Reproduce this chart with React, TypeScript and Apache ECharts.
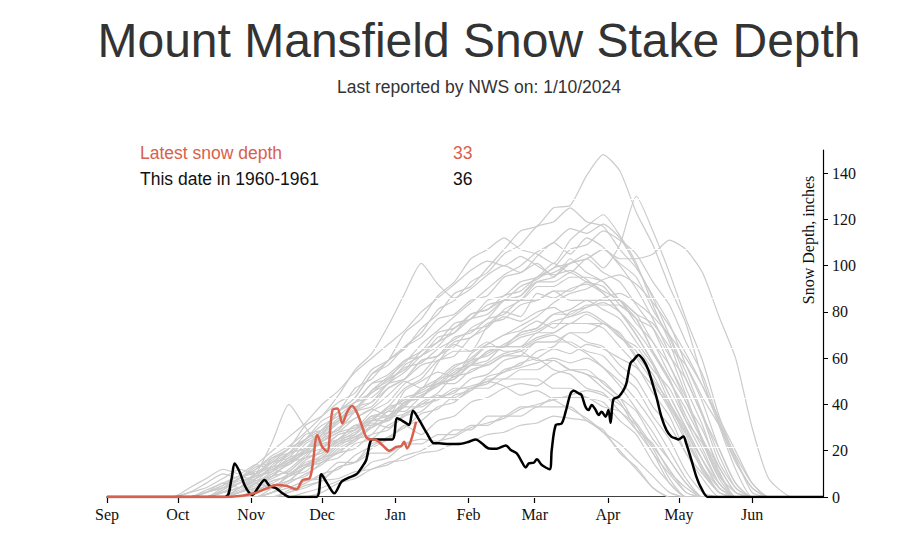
import React, { useEffect, useRef } from 'react';
import * as echarts from 'echarts';

// x axis: days since Sep 1 (season year)
const monthStarts = [0, 30, 61, 91, 122, 153, 181, 212, 242, 273];
const monthLabels = ['Sep', 'Oct', 'Nov', 'Dec', 'Jan', 'Feb', 'Mar', 'Apr', 'May', 'Jun'];
const yTicks = [0, 20, 40, 60, 80, 100, 120, 140];

// weekly sample days for historical seasons
const greyDays = [28, 35, 42, 49, 56, 63, 70, 77, 84, 91, 98, 105, 112, 119, 126, 133, 140, 147, 154, 161, 168, 175, 182, 189, 196, 203, 210, 217, 224, 231, 238, 245, 252, 259, 266, 273, 280];

const season01 = [0, 0, 2, 5, 8, 12, 18, 22, 28, 35, 44, 55, 62, 74, 88, 101, 92, 86, 90, 96, 100, 97, 104, 110, 105, 112, 108, 100, 90, 77, 62, 44, 24, 8, 0, 0, 0];
const season02 = [0, 0, 0, 2, 6, 10, 16, 21, 25, 33, 37, 47, 51, 59, 64, 73, 79, 88, 91, 99, 107, 115, 117, 125, 126, 139, 148, 141, 123, 109, 91, 75, 51, 31, 12, 0, 0];
const season03 = [0, 0, 0, 0, 3, 7, 9, 15, 17, 25, 29, 37, 41, 49, 54, 61, 65, 73, 77, 83, 85, 91, 94, 99, 101, 105, 99, 109, 130, 115, 97, 77, 59, 35, 17, 2, 0];
const season04 = [0, 0, 0, 0, 0, 2, 5, 7, 13, 15, 21, 25, 33, 39, 47, 51, 59, 61, 69, 73, 81, 85, 93, 95, 101, 103, 107, 103, 103, 105, 111, 107, 97, 78, 60, 30, 8];
const season05 = [0, 0, 2, 4, 7, 9, 15, 19, 27, 29, 37, 43, 53, 59, 71, 77, 87, 93, 103, 107, 112, 107, 105, 101, 111, 117, 122, 113, 101, 83, 67, 47, 31, 11, 0, 0, 0];
const season06 = [0, 0, 0, 0, 2, 5, 8, 12, 18, 24, 28, 34, 38, 44, 50, 47, 58, 66, 63, 74, 80, 78, 88, 86, 90, 92, 88, 80, 70, 58, 44, 30, 16, 4, 0, 0, 0];
const season07 = [0, 0, 0, 0, 0, 0, 2, 4, 7, 8, 13, 15, 21, 25, 31, 27, 33, 35, 41, 43, 47, 49, 48, 53, 55, 53, 50, 43, 37, 25, 16, 6, 0, 0, 0, 0, 0];
const season08 = [0, 0, 2, 6, 4, 8, 12, 16, 20, 24, 30, 34, 38, 35, 46, 50, 54, 52, 62, 66, 70, 72, 76, 73, 80, 82, 84, 80, 72, 62, 50, 38, 24, 10, 0, 0, 0];
const season09 = [0, 0, 0, 2, 4, 7, 9, 15, 19, 27, 33, 41, 45, 51, 55, 63, 67, 75, 77, 85, 87, 93, 95, 101, 97, 103, 97, 93, 83, 73, 57, 43, 25, 11, 0, 0, 0];
const season10 = [0, 0, 0, 0, 0, 0, 0, 2, 5, 7, 13, 15, 23, 25, 31, 33, 39, 41, 47, 49, 55, 57, 63, 65, 71, 71, 75, 69, 63, 51, 41, 25, 13, 2, 0, 0, 0];
const season11 = [0, 0, 0, 0, 2, 6, 11, 15, 23, 27, 37, 43, 53, 57, 65, 71, 81, 85, 93, 97, 105, 109, 117, 119, 125, 119, 117, 107, 99, 87, 75, 57, 41, 21, 6, 0, 0];
const season12 = [0, 0, 3, 6, 9, 10, 13, 14, 19, 21, 27, 29, 35, 37, 43, 45, 49, 51, 57, 57, 61, 61, 60, 55, 53, 47, 45, 37, 31, 19, 10, 2, 0, 0, 0, 0, 0];
const season13 = [0, 0, 0, 0, 0, 4, 9, 11, 17, 19, 25, 27, 33, 35, 41, 43, 51, 53, 59, 61, 65, 65, 71, 71, 75, 75, 73, 65, 57, 45, 35, 19, 8, 0, 0, 0, 0];
const season14 = [0, 0, 0, 3, 8, 12, 17, 19, 25, 29, 37, 41, 49, 53, 59, 63, 71, 73, 79, 81, 85, 85, 91, 91, 95, 95, 93, 85, 79, 67, 57, 41, 29, 13, 2, 0, 0];
const season15 = [0, 0, 0, 0, 0, 0, 0, 0, 2, 4, 7, 9, 15, 17, 23, 25, 24, 29, 29, 35, 35, 39, 39, 43, 43, 43, 39, 37, 29, 23, 11, 4, 0, 0, 0, 0, 0];
const season16 = [0, 0, 0, 0, 0, 2, 4, 9, 11, 17, 19, 25, 27, 35, 39, 47, 49, 55, 57, 63, 65, 71, 73, 79, 81, 85, 85, 85, 79, 75, 65, 57, 43, 31, 15, 4, 0];
const season17 = [0, 0, 0, 2, 4, 8, 13, 15, 21, 25, 33, 37, 45, 49, 57, 61, 67, 71, 79, 81, 87, 89, 95, 97, 101, 103, 107, 101, 95, 81, 69, 51, 35, 15, 4, 0, 0];
const season18 = [0, 2, 6, 10, 8, 13, 15, 21, 25, 31, 35, 41, 43, 49, 51, 57, 59, 63, 63, 67, 63, 63, 59, 59, 55, 55, 49, 43, 31, 21, 8, 0, 0, 0, 0, 0, 0];
const season19 = [0, 0, 0, 0, 4, 9, 11, 19, 21, 29, 33, 39, 41, 47, 51, 59, 61, 69, 71, 77, 79, 85, 85, 89, 85, 85, 81, 77, 67, 57, 41, 29, 13, 4, 0, 0, 0];
const season20 = [0, 0, 0, 0, 0, 2, 7, 9, 13, 15, 19, 21, 27, 29, 35, 37, 43, 45, 51, 53, 59, 61, 67, 67, 71, 67, 65, 57, 51, 39, 31, 19, 10, 2, 0, 0, 0];
const season21 = [0, 0, 0, 0, 2, 4, 9, 11, 17, 19, 25, 29, 37, 41, 49, 53, 61, 65, 73, 77, 85, 87, 95, 99, 107, 109, 115, 111, 105, 93, 83, 67, 53, 33, 18, 6, 0];
const season22 = [0, 0, 2, 4, 6, 10, 24, 40, 30, 22, 27, 29, 33, 33, 39, 39, 43, 43, 47, 47, 51, 51, 51, 47, 47, 43, 41, 33, 27, 15, 6, 0, 0, 0, 0, 0, 0];
const season23 = [0, 0, 0, 0, 0, 0, 4, 9, 13, 21, 25, 31, 33, 39, 41, 47, 51, 57, 59, 65, 65, 69, 71, 75, 75, 79, 75, 71, 61, 53, 39, 27, 11, 2, 0, 0, 0];
const season24 = [0, 0, 0, 4, 8, 11, 13, 19, 21, 27, 29, 37, 39, 47, 51, 59, 61, 67, 69, 75, 77, 83, 85, 89, 89, 93, 89, 85, 75, 67, 53, 41, 25, 13, 2, 0, 0];
const season25 = [0, 0, 0, 0, 0, 0, 0, 2, 4, 7, 8, 11, 12, 15, 16, 19, 20, 23, 24, 27, 28, 31, 32, 35, 34, 33, 28, 23, 16, 9, 2, 0, 0, 0, 0, 0, 0];
const season26 = [0, 2, 4, 8, 12, 10, 17, 21, 31, 35, 41, 45, 55, 59, 65, 69, 77, 79, 85, 87, 95, 97, 101, 95, 103, 97, 93, 85, 77, 63, 51, 33, 19, 6, 0, 0, 0];
const season27 = [0, 0, 0, 0, 2, 4, 7, 9, 15, 17, 23, 27, 35, 35, 41, 43, 49, 49, 55, 57, 61, 63, 67, 67, 67, 63, 61, 53, 47, 35, 25, 11, 2, 0, 0, 0, 0];
const season28 = [0, 0, 0, 0, 0, 0, 2, 7, 9, 15, 17, 23, 25, 31, 35, 41, 45, 53, 57, 63, 65, 71, 73, 79, 79, 83, 83, 83, 77, 73, 61, 51, 35, 21, 6, 0, 0];
const season29 = [0, 0, 0, 2, 6, 9, 11, 17, 19, 23, 25, 31, 31, 37, 37, 43, 43, 47, 47, 51, 51, 55, 55, 59, 55, 53, 47, 41, 29, 19, 6, 0, 0, 0, 0, 0, 0];
const season30 = [0, 0, 0, 0, 4, 10, 15, 17, 25, 29, 37, 41, 49, 51, 59, 61, 69, 71, 77, 79, 85, 87, 93, 93, 97, 93, 91, 83, 77, 63, 51, 35, 21, 6, 0, 0, 0];
const season31 = [0, 0, 0, 0, 0, 2, 5, 7, 13, 17, 23, 25, 31, 33, 41, 43, 49, 51, 57, 59, 65, 65, 69, 71, 75, 75, 75, 69, 65, 55, 47, 33, 23, 9, 2, 0, 0];
const season32 = [0, 0, 0, 0, 0, 0, 2, 4, 7, 9, 15, 15, 19, 19, 23, 23, 27, 27, 31, 31, 35, 35, 39, 39, 39, 33, 29, 19, 13, 4, 0, 0, 0, 0, 0, 0, 0];
const season33 = [0, 0, 2, 5, 9, 7, 14, 18, 24, 28, 34, 38, 46, 50, 56, 58, 64, 68, 72, 74, 78, 76, 80, 82, 78, 80, 76, 70, 60, 50, 38, 24, 12, 2, 0, 0, 0];
const season34 = [0, 0, 0, 0, 0, 0, 0, 3, 6, 10, 12, 18, 22, 26, 30, 36, 38, 44, 46, 52, 54, 58, 60, 64, 62, 66, 64, 60, 56, 48, 40, 28, 16, 6, 0, 0, 0];
const season35 = [0, 0, 0, 3, 8, 14, 20, 26, 32, 40, 46, 54, 60, 66, 72, 80, 86, 92, 98, 102, 100, 104, 100, 96, 98, 94, 88, 80, 70, 58, 44, 30, 16, 4, 0, 0, 0];
const season36 = [0, 0, 0, 0, 2, 6, 4, 10, 14, 18, 24, 28, 32, 30, 36, 40, 44, 42, 46, 50, 48, 44, 46, 42, 38, 34, 28, 20, 12, 4, 0, 0, 0, 0, 0, 0, 0];
const season37 = [0, 0, 0, 0, 0, 3, 6, 10, 14, 16, 22, 26, 30, 34, 40, 44, 48, 54, 58, 62, 66, 70, 72, 76, 78, 82, 86, 88, 84, 78, 70, 60, 48, 34, 20, 6, 0];
const season38 = [0, 4, 8, 12, 10, 14, 12, 16, 20, 24, 28, 30, 34, 38, 42, 44, 48, 52, 54, 58, 62, 64, 68, 70, 66, 62, 56, 48, 38, 28, 16, 6, 0, 0, 0, 0, 0];
const season39 = [0, 0, 0, 0, 2, 6, 10, 14, 20, 26, 32, 38, 46, 52, 58, 66, 72, 78, 84, 90, 96, 100, 106, 110, 116, 114, 118, 112, 100, 86, 70, 54, 36, 18, 4, 0, 0];
const season40 = [0, 0, 0, 0, 0, 0, 0, 0, 0, 2, 6, 8, 12, 14, 18, 20, 24, 26, 30, 32, 34, 38, 40, 42, 44, 46, 44, 40, 32, 22, 12, 2, 0, 0, 0, 0, 0];
const season41 = [0, 0, 0, 2, 4, 8, 12, 10, 16, 20, 24, 26, 30, 34, 36, 40, 42, 46, 48, 50, 54, 56, 58, 60, 58, 60, 56, 50, 42, 32, 20, 8, 0, 0, 0, 0, 0];
const season42 = [0, 0, 0, 0, 0, 0, 2, 6, 10, 14, 20, 24, 30, 34, 40, 46, 50, 56, 60, 66, 70, 74, 78, 84, 88, 90, 94, 96, 92, 84, 74, 62, 48, 32, 16, 4, 0];

const greySeasons = [
  season01, season02, season03, season04, season05, season06, season07, season08,
  season09, season10, season11, season12, season13, season14, season15, season16,
  season17, season18, season19, season20, season21, season22, season23, season24,
  season25, season26, season27, season28, season29, season30, season31, season32,
  season33, season34, season35, season36, season37, season38, season39, season40,
  season41, season42,
];

// 1960-1961 season: [day since Sep 1, depth in inches]
const season1960 = [
  [0, 0], [50, 0], [52.6, 7.3], [54, 14.5], [56.1, 10.9], [58.2, 5.2], [60.3, 1.6], [61.6, 0.9],
  [63.7, 3.7], [66.7, 7.3], [68.8, 4.8], [71.7, 3.7], [74.3, 1.6], [77.2, 0], [88.6, 0], [90.7, 9.8],
  [93.2, 5.9], [96.2, 1.6], [99.2, 6.6], [101.7, 8.1], [105.5, 9.8], [108, 13.1], [109.7, 16],
  [111.8, 24.6], [113.9, 24.9], [120.7, 24.9], [122.8, 34], [125.7, 32.5], [127.8, 31.1],
  [129.5, 37.3], [132.1, 33.3], [135.4, 27.5], [138.4, 23.2], [140.5, 23.2], [144.7, 22.9],
  [149, 22.9], [153.2, 23.9], [156.1, 24.9], [158.6, 23.2], [161.6, 21], [165, 20.9],
  [168.8, 22.3], [170.9, 20.3], [173.4, 18.9], [175.5, 15.3], [177.2, 12.8], [178.5, 14.5],
  [180.6, 14.8], [181.9, 16.3], [184, 13.8], [187.3, 12], [188.2, 20.3], [189.9, 31.1],
  [192.4, 31.8], [194.1, 36.9], [196.2, 44.8], [197.5, 45.9], [199.6, 44.8], [200.8, 44.1],
  [202.5, 39], [203.8, 37.6], [205.1, 39.8], [206.8, 37.6], [208, 35.4], [209.3, 36.9],
  [211, 34.7], [212.2, 37.6], [213.1, 32.1], [214.3, 42.2], [216.5, 43.3], [218.6, 46.2],
  [219.8, 49.1], [221.5, 57.8], [222.8, 59.2], [224.9, 61.4], [227, 59.2], [229.1, 54.9],
  [230.4, 50.6], [232.5, 43.3], [234.6, 34.7], [236.7, 29], [238.8, 26.1], [240.5, 25.4],
  [241.8, 24.9], [243.9, 26.1], [245.1, 23.2], [247.3, 16], [249.4, 8.8], [251.5, 3.8],
  [254.4, 0], [303, 0],
];

// latest season 2023-2024
const seasonLatest = [
  [0, 0], [50.6, 0], [54.9, 0.3], [59.1, 0.9], [63.3, 1.9], [67.5, 3.7], [71.7, 5.2], [75.9, 4.8],
  [80.2, 3.3], [82.7, 7.3], [85.7, 8.1], [86.9, 13], [89, 26.8], [91.1, 21.7], [93.2, 19.6],
  [95.4, 37.6], [97.5, 38.3], [99.6, 31.8], [101.7, 36.9], [103.8, 39.3], [105.9, 36.2],
  [108, 30.4], [110.1, 25.4], [113.9, 24.6], [116.5, 22.5], [119.4, 20], [122.4, 21.7],
  [124.5, 22], [125.7, 23.9], [127, 21], [128.7, 24.6], [130.8, 32.5],
];

const latestDepth = 33;
const thisDateDepth = 36;

const RED = '#d9604c';
const SERIF = '"Liberation Serif", "Times New Roman", serif';
const SANS = '"Liberation Sans", Arial, sans-serif';

export default function App() {
  const ref = useRef<HTMLDivElement>(null);

  useEffect(() => {
    if (!ref.current) return;
    const chart = echarts.init(ref.current, null, { renderer: 'svg' });

    const greySeries = greySeasons.map((vals, k) => ({
      type: 'line',
      name: 'hist' + k,
      data: [[0, 0], ...greyDays.map((d, i) => [d, vals[i]]), [290, 0], [303, 0]],
      showSymbol: false,
      smooth: 0.2,
      lineStyle: { color: '#cbcbcb', width: 1.2 },
      z: 2,
      silent: true,
    }));

    chart.setOption({
      animation: false,
      grid: { left: 107, right: 77, top: 150, bottom: 40 },
      xAxis: {
        type: 'value',
        min: 0,
        max: 303,
        axisLine: { show: true, onZero: false, lineStyle: { color: '#000', width: 1.5 } },
        axisTick: { show: true, length: 6, customValues: monthStarts, lineStyle: { color: '#000', width: 1.2 } },
        axisLabel: {
          customValues: monthStarts,
          formatter: (v: number) => monthLabels[monthStarts.indexOf(v)] ?? '',
          fontFamily: SERIF,
          fontSize: 16,
          color: '#111',
          margin: 9,
        },
        splitLine: { show: false },
      },
      yAxis: [
        {
          type: 'value',
          position: 'right',
          min: 0,
          max: 150,
          axisLine: { show: true, onZero: false, lineStyle: { color: '#000', width: 1.2 } },
          axisTick: { show: true, length: 5, customValues: yTicks, lineStyle: { color: '#000', width: 1 } },
          axisLabel: {
            customValues: yTicks,
            fontFamily: SERIF,
            fontSize: 16,
            color: '#111',
            margin: 9,
          },
          splitLine: { show: false },
          z: 6,
        },
        {
          type: 'value',
          position: 'left',
          min: 0,
          max: 140,
          interval: 20,
          axisLine: { show: false, onZero: false },
          axisTick: { show: false },
          axisLabel: { show: false },
          splitLine: { show: true, lineStyle: { color: '#ffffff', width: 1 } },
          z: 3,
        },
      ],
      series: [
        ...greySeries,
        {
          type: 'line',
          name: '1960-1961',
          data: season1960,
          showSymbol: false,
          smooth: 0.3,
          lineStyle: { color: '#000', width: 2.5 },
          z: 4,
        },
        {
          type: 'line',
          name: 'Latest',
          data: seasonLatest,
          showSymbol: false,
          smooth: 0.3,
          lineStyle: { color: RED, width: 2.5 },
          z: 5,
        },
      ],
      graphic: [
        {
          type: 'text', x: 479, y: 40, z: 100,
          style: { text: 'Mount Mansfield Snow Stake Depth', fill: '#333', fontSize: 48, fontFamily: SANS, align: 'center', verticalAlign: 'middle' },
        },
        {
          type: 'text', x: 479, y: 87, z: 100,
          style: { text: 'Last reported by NWS on: 1/10/2024', fill: '#333', fontSize: 17.5, fontFamily: SANS, align: 'center', verticalAlign: 'middle' },
        },
        {
          type: 'text', x: 140, y: 153, z: 100,
          style: { text: 'Latest snow depth', fill: RED, fontSize: 17.5, fontFamily: SANS, align: 'left', verticalAlign: 'middle' },
        },
        {
          type: 'text', x: 453, y: 153, z: 100,
          style: { text: String(latestDepth), fill: RED, fontSize: 17.5, fontFamily: SANS, align: 'left', verticalAlign: 'middle' },
        },
        {
          type: 'text', x: 140, y: 179, z: 100,
          style: { text: 'This date in 1960-1961', fill: '#111', fontSize: 17.5, fontFamily: SANS, align: 'left', verticalAlign: 'middle' },
        },
        {
          type: 'text', x: 453, y: 179, z: 100,
          style: { text: String(thisDateDepth), fill: '#111', fontSize: 17.5, fontFamily: SANS, align: 'left', verticalAlign: 'middle' },
        },
        {
          type: 'text', x: 808, y: 240, rotation: Math.PI / 2, z: 100,
          style: { text: 'Snow Depth, inches', fill: '#111', fontSize: 16, fontFamily: SERIF, align: 'center', verticalAlign: 'middle' },
        },
      ],
    });

    return () => chart.dispose();
  }, []);

  return <div ref={ref} style={{ position: 'fixed', left: 0, top: 0, width: 900, height: 537, background: '#fff' }} />;
}
